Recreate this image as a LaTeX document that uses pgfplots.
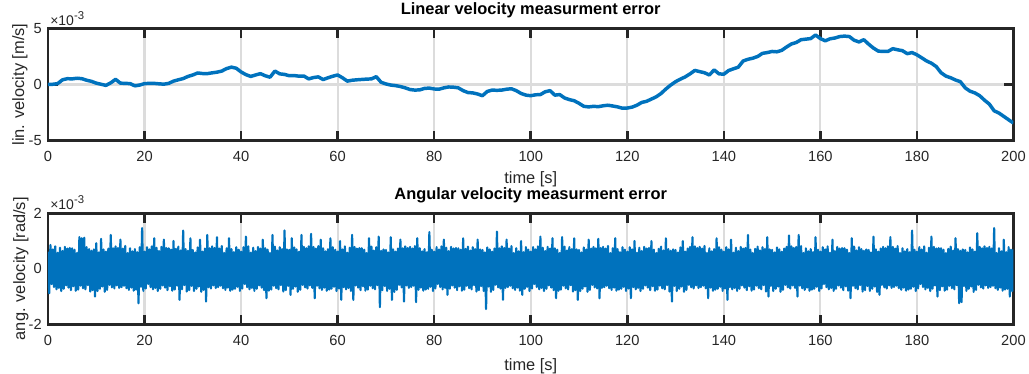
\documentclass[border=0pt]{standalone}
\usepackage{pgfplots}
\pgfplotsset{compat=1.18}
\usepackage{pgfplotstable}
\usepackage{fontspec}
\setmainfont{Liberation Sans}
\definecolor{mblue}{RGB}{0,114,189}
\definecolor{maxis}{RGB}{38,38,38}
\definecolor{mgrid}{RGB}{220,220,220}

% linear velocity error, units 1e-3 m/s
\pgfplotstableread{
t v
0 0
1 0.02
2 0.08
3 0.42
4 0.52
5 0.5
6 0.56
7 0.52
8 0.38
9 0.28
10 0.12
11 0.02
12 -0.08
13 0.15
14 0.46
15 0.12
16 0.1
17 0.08
18 -0.12
19 -0.05
20 0.08
21 0.1
22 0.1
23 0.06
24 0.03
25 0.1
26 0.3
27 0.42
28 0.53
29 0.72
30 0.85
31 1.03
32 0.98
33 0.97
34 1.04
35 1.1
36 1.2
37 1.42
38 1.55
39 1.45
40 1.12
41 0.88
42 0.72
43 0.85
44 0.97
45 0.78
46 0.65
47 1.2
48 0.95
49 0.9
50 0.78
51 0.8
52 0.74
53 0.76
54 0.5
55 0.62
56 0.68
57 0.44
58 0.6
59 0.74
60 0.85
61 0.6
62 0.3
63 0.38
64 0.42
65 0.45
66 0.48
67 0.5
68 0.7
69 0.2
70 0.05
71 -0.05
72 -0.1
73 -0.18
74 -0.3
75 -0.45
76 -0.5
77 -0.48
78 -0.35
79 -0.32
80 -0.4
81 -0.42
82 -0.3
83 -0.22
84 -0.24
85 -0.3
86 -0.55
87 -0.72
88 -0.75
89 -0.85
90 -1.0
91 -0.62
92 -0.5
93 -0.52
94 -0.5
95 -0.42
96 -0.38
97 -0.55
98 -0.8
99 -0.95
100 -1.0
101 -0.92
102 -0.9
103 -0.65
104 -0.55
105 -0.95
106 -0.9
107 -1.2
108 -1.35
109 -1.45
110 -1.68
111 -1.95
112 -2.0
113 -1.95
114 -1.98
115 -1.9
116 -1.85
117 -1.92
118 -2.0
119 -2.12
120 -2.1
121 -2.02
122 -1.85
123 -1.6
124 -1.5
125 -1.3
126 -1.1
127 -0.8
128 -0.4
129 -0.05
130 0.25
131 0.48
132 0.68
133 0.95
134 1.26
135 1.15
136 1.05
137 0.85
138 1.3
139 0.95
140 0.92
141 1.25
142 1.4
143 1.55
144 2.1
145 2.25
146 2.35
147 2.5
148 2.78
149 2.85
150 2.95
151 2.92
152 3.05
153 3.35
154 3.62
155 3.75
156 4.0
157 4.05
158 4.1
159 4.42
160 4.1
161 3.9
162 4.08
163 4.15
164 4.28
165 4.32
166 4.28
167 3.95
168 3.8
169 4.0
170 3.6
171 3.25
172 2.98
173 2.95
174 2.95
175 3.2
176 3.1
177 3.02
178 2.75
179 2.85
180 2.65
181 2.38
182 2.1
183 1.9
184 1.6
185 1.05
186 0.75
187 0.6
188 0.4
189 0.25
190 -0.3
191 -0.6
192 -0.75
193 -1.0
194 -1.4
195 -1.75
196 -2.35
197 -2.55
198 -2.85
199 -3.15
200 -3.44
}\lindata

% angular velocity error, units 1e-3 rad/s, sampled every 0.25 s
\pgfplotstableread[header=false]{
0.62
-0.88
0.86
-0.55
0.70
-0.66
0.81
-0.74
0.58
-0.69
0.76
-0.80
0.64
-0.72
0.79
-0.60
0.73
-0.68
0.75
-0.77
0.74
-0.63
0.69
-0.79
0.57
-0.75
1.14
-0.61
1.10
-0.70
1.12
-0.74
0.78
-0.59
0.71
-0.82
0.65
-0.77
0.70
-1.00
0.92
-0.80
0.59
-0.72
1.08
-0.64
0.70
-0.83
0.62
-0.76
0.73
-0.58
1.22
-0.67
0.74
-0.71
0.81
-0.60
0.75
-0.69
1.05
-0.66
0.73
-0.61
0.82
-0.70
0.57
-0.76
0.74
-0.68
0.63
-0.79
0.71
-0.75
0.60
-1.24
0.78
-0.65
1.47
-0.80
0.62
-0.71
0.78
-0.55
0.70
-0.66
0.81
-0.74
1.10
-0.69
0.76
-0.80
0.64
-0.72
0.79
-0.60
1.05
-0.68
0.75
-0.77
0.74
-0.63
0.69
-0.79
1.00
-0.75
0.72
-0.61
0.80
-1.12
0.66
-0.74
1.38
-0.59
0.71
-0.82
0.65
-0.77
1.10
-0.62
0.68
-0.80
0.59
-0.72
0.77
-0.64
1.05
-0.83
0.62
-0.76
0.73
-1.18
1.22
-0.67
0.74
-0.71
0.81
-0.60
0.75
-0.69
1.14
-0.66
0.73
-0.61
0.82
-0.70
0.57
-0.76
0.74
-0.68
1.10
-0.79
0.71
-0.75
0.60
-0.72
0.78
-0.65
0.69
-0.80
0.62
-0.71
0.78
-0.55
1.16
-0.66
0.81
-0.74
0.58
-0.69
0.76
-0.80
0.64
-0.72
0.79
-0.60
0.73
-0.68
1.05
-0.77
0.74
-1.06
0.69
-0.79
0.57
-0.75
1.22
-0.61
0.80
-0.70
0.66
-0.74
0.78
-0.59
0.71
-0.82
1.38
-0.77
0.70
-0.62
0.68
-0.94
1.10
-0.72
0.77
-0.64
0.70
-0.83
0.62
-0.76
1.22
-0.58
0.79
-0.67
0.74
-0.71
0.81
-0.60
1.26
-0.69
0.79
-1.06
0.73
-0.61
0.82
-0.70
1.05
-0.76
0.74
-0.68
0.63
-0.79
0.71
-0.75
1.10
-0.72
0.78
-0.65
0.69
-0.80
0.62
-0.71
1.00
-1.12
0.70
-0.66
0.81
-0.74
0.58
-0.69
0.76
-0.80
1.22
-1.12
0.79
-0.60
0.73
-0.68
0.75
-0.77
0.74
-0.63
0.69
-0.79
0.57
-0.75
1.10
-0.61
0.80
-0.70
0.66
-0.74
0.78
-0.59
1.16
-1.38
0.65
-0.77
0.70
-0.62
0.68
-0.80
0.59
-0.72
1.14
-1.12
0.70
-0.83
0.62
-0.76
0.73
-0.58
1.05
-0.67
0.74
-1.18
0.81
-0.60
0.75
-0.69
0.79
-0.66
0.73
-0.61
0.82
-1.20
1.10
-0.76
0.74
-0.68
0.63
-0.79
0.71
-0.75
0.60
-0.72
1.32
-0.65
0.69
-0.80
0.62
-0.71
0.78
-0.55
0.70
-0.66
0.81
-0.74
1.05
-0.69
0.76
-0.94
0.64
-0.72
0.79
-0.60
0.73
-0.68
0.75
-0.77
0.74
-0.63
0.69
-0.79
1.10
-0.75
0.72
-0.61
0.80
-0.70
0.66
-0.74
0.78
-0.59
0.71
-0.82
1.05
-0.77
0.70
-0.62
0.68
-0.80
0.59
-1.45
0.77
-0.64
0.70
-0.83
0.62
-0.76
0.73
-0.58
1.34
-0.67
0.74
-0.71
0.81
-1.12
0.75
-0.69
1.05
-0.66
0.73
-0.61
0.82
-0.70
0.57
-0.76
0.74
-0.68
0.63
-0.79
1.00
-0.94
0.60
-0.72
0.78
-0.65
0.69
-0.80
0.62
-0.71
0.78
-0.55
0.70
-0.66
0.81
-0.74
1.16
-0.69
0.76
-0.80
0.64
-0.72
0.79
-0.60
0.73
-0.68
1.10
-0.77
0.74
-1.06
0.69
-0.79
0.57
-0.75
1.14
-0.61
0.80
-0.70
0.66
-0.74
0.78
-0.59
0.71
-0.82
1.10
-0.77
0.70
-1.12
0.68
-0.80
0.59
-0.72
0.77
-0.64
0.70
-0.83
1.05
-0.76
0.73
-0.58
0.79
-0.67
0.74
-0.71
1.08
-1.06
0.75
-0.69
0.79
-0.66
0.73
-0.61
0.82
-0.70
0.57
-0.76
0.74
-0.68
1.10
-0.79
0.71
-0.75
0.60
-0.72
0.78
-0.65
0.69
-0.80
0.62
-0.71
0.78
-1.06
0.70
-0.66
1.00
-0.74
0.58
-0.69
0.76
-0.80
0.64
-0.72
0.79
-0.60
0.73
-0.68
0.75
-0.77
1.00
-0.63
0.69
-0.79
0.57
-0.75
0.72
-0.61
0.80
-0.70
0.66
-0.74
1.10
-0.59
0.71
-0.82
0.65
-1.18
0.70
-0.62
0.68
-0.80
0.59
-0.72
0.77
-0.64
1.00
-0.83
0.62
-0.76
0.73
-0.58
0.79
-0.67
1.14
-0.71
0.81
-0.60
0.75
-0.69
0.79
-0.66
0.73
-0.61
0.82
-0.70
0.57
-1.06
0.74
-0.68
0.63
-0.79
0.71
-0.75
1.10
-0.72
0.78
-0.65
0.69
-0.80
0.62
-0.71
0.78
-1.12
0.70
-0.66
1.05
-0.74
0.58
-0.69
0.76
-0.80
0.64
-0.72
0.79
-0.60
0.73
-0.68
0.75
-0.77
1.22
-0.63
0.69
-0.79
0.57
-0.75
0.72
-0.61
0.80
-0.70
0.66
-0.74
0.78
-0.59
0.71
-0.82
1.14
-1.00
0.70
-0.62
0.68
-0.80
0.59
-0.72
0.77
-0.64
0.70
-0.83
0.62
-0.76
0.73
-0.58
0.79
-0.67
1.20
-0.71
0.81
-0.60
0.75
-0.69
0.79
-1.00
1.22
-0.61
0.82
-0.70
0.57
-0.76
0.74
-0.68
0.63
-0.79
0.71
-0.75
0.60
-0.72
1.14
-0.65
0.69
-0.80
0.62
-0.71
0.78
-0.55
0.70
-0.66
0.81
-0.74
0.58
-0.69
1.05
-0.80
0.64
-0.72
0.79
-0.60
0.73
-0.68
0.75
-0.77
0.74
-0.63
0.69
-0.79
0.57
-1.06
1.10
-0.61
0.80
-0.70
0.66
-0.74
0.78
-0.59
0.71
-0.82
0.65
-0.77
0.70
-0.62
0.68
-0.80
0.59
-0.72
1.16
-0.64
0.70
-0.83
0.62
-0.94
0.73
-0.58
0.79
-0.67
0.74
-0.71
0.81
-0.60
1.14
-0.69
0.79
-0.66
0.73
-0.61
0.82
-0.70
0.57
-0.76
0.74
-0.68
0.63
-0.79
0.71
-0.75
0.60
-0.72
1.38
-0.65
0.69
-0.80
0.62
-0.71
0.78
-0.55
0.70
-0.66
0.81
-0.74
0.58
-0.69
0.76
-0.80
1.16
-0.72
0.79
-0.60
0.73
-1.00
0.75
-0.77
0.74
-0.63
0.69
-0.79
0.57
-0.75
0.72
-0.61
0.80
-0.70
0.66
-0.74
1.10
-0.59
0.71
-1.24
0.65
-1.20
0.70
-0.62
0.68
-0.80
0.59
-0.72
0.77
-0.64
0.70
-0.83
0.62
-0.76
1.28
-0.58
0.79
-0.67
0.74
-0.71
0.81
-0.60
0.75
-0.69
0.79
-0.66
0.73
-0.61
1.47
-0.70
0.57
-0.76
0.74
-0.68
0.63
-0.79
1.05
-0.75
0.60
-0.72
0.78
-1.00
0.69
-0.80
0.70
}\angdata

\pgfplotsset{
  mstyle/.style={
    scale only axis,
    width=724.1pt,
    xmin=0, xmax=200,
    xtick={0,20,...,200},
    axis line style={maxis, line width=1.9pt},
    every tick/.style={maxis, line width=1.9pt},
    major tick length=7.3pt,
    tick align=inside,
    xtick pos=both, ytick pos=both,
    xticklabel pos=lower, yticklabel pos=left,
    grid=major,
    major grid style={mgrid, line width=1.6pt},
    /pgf/number format/assume math mode=true,
    scaled y ticks=false,
    tick label style={font=\fontsize{11}{13}\selectfont, text=maxis},
    xticklabel style={anchor=base, inner sep=0pt, yshift=-15.9pt},
    yticklabel style={anchor=east, inner sep=0pt, xshift=-4.5pt},
    label style={font=\fontsize{12.3}{14}\selectfont, text=maxis},
    title style={font=\bfseries\fontsize{12.3}{14}\selectfont, at={(axis description cs:0.5,1)}, anchor=base, yshift=4.6pt},
    xlabel={time [s]},
  }
}
\newcommand{\mscale}{×10\raisebox{0.42em}{\fontsize{8.5}{9}\selectfont -3}}

\begin{document}
\begin{tikzpicture}
\useasboundingbox (-36pt,-175.125pt) rectangle (735.75pt,105.375pt);

\begin{axis}[mstyle, name=top,
  at={(0pt,0pt)}, anchor=south west,
  height=84pt,
  ymin=-5, ymax=5, ytick={-5,0,5},
  title={Linear velocity measurment error},
  ylabel={lin. velocity [m/s]},
  ylabel style={at={(axis description cs:-0.029,0.5)}, anchor=center},
  xlabel style={at={(axis description cs:0.5,0)}, anchor=base, yshift=-32.3pt},
]
\addplot[mblue, line width=2.6pt, line join=round] table[x=t, y=v] {\lindata};
\end{axis}
\node[anchor=base west, inner sep=0pt, text=maxis, font=\fontsize{10.5}{11}\selectfont] at ([xshift=1.5pt, yshift=2.2pt]top.north west) {\mscale};

\begin{axis}[mstyle, name=bot,
  at={(0pt,-137.85pt)}, anchor=south west,
  height=83.25pt,
  ymin=-2, ymax=2, ytick={-2,0,2},
  title={Angular velocity measurment error},
  ylabel={ang. velocity [rad/s]},
  ylabel style={at={(axis description cs:-0.028,0.5)}, anchor=center},
  xlabel style={at={(axis description cs:0.5,0)}, anchor=base, yshift=-34.6pt},
]
\addplot[mblue, line width=1.6pt, line join=round] table[x expr=\coordindex*0.25, y index=0] {\angdata};
\end{axis}
\node[anchor=base west, inner sep=0pt, text=maxis, font=\fontsize{10.5}{11}\selectfont] at ([xshift=1.5pt, yshift=2.6pt]bot.north west) {\mscale};
\end{tikzpicture}
\end{document}
